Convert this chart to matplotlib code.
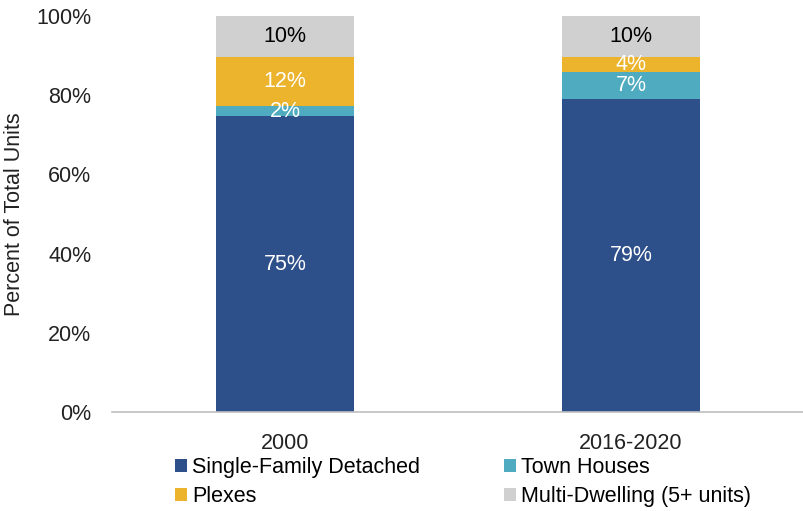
import matplotlib
matplotlib.use("Agg")
import matplotlib.pyplot as plt
import numpy as np

# data (percent of total units)
periods = ["2000", "2016-2020"]
series_names = ["Single-Family Detached", "Town Houses", "Plexes", "Multi-Dwelling (5+ units)"]
single_family = [74.7, 79.0]
town_houses = [2.5, 6.8]
plexes = [12.4, 3.8]
multi_dwelling = [10.4, 10.4]
yticks = [0, 20, 40, 60, 80, 100]

colors = ["#2D4F8A", "#4FABBF", "#EBB42C", "#D0D0D0"]
label_colors = ["white", "white", "white", "black"]
fs = 15.5

plt.rcParams['font.family'] = ['Liberation Sans', 'DejaVu Sans']

fig = plt.figure(figsize=(8.04, 5.11), dpi=100)
ax = fig.add_axes([112/804, 1 - 412/511, 692/804, (412 - 16)/511])

x = np.arange(len(periods))
bottom = np.zeros(len(periods))
handles = []
for vals, name, col, lc in zip([single_family, town_houses, plexes, multi_dwelling],
                               series_names, colors, label_colors):
    vals = np.array(vals)
    b = ax.bar(x, vals, 0.4, bottom=bottom, color=col, label=name)
    handles.append(b)
    for xi, v, bt in zip(x, vals, bottom):
        ax.text(xi, bt + v / 2, "%d%%" % round(v), ha="center", va="center",
                color=lc, fontsize=fs)
    bottom = bottom + vals

ax.set_xlim(-0.5, 1.5)
ax.set_ylim(0, 100)
ax.set_yticks(yticks)
ax.set_yticklabels(["%d%%" % t for t in yticks])
ax.set_xticks(x)
ax.set_xticklabels(periods)
ax.tick_params(axis="both", length=0, labelsize=fs, colors="#222222")
ax.tick_params(axis="y", pad=15)
ax.tick_params(axis="x", pad=15)
for s in ["top", "right", "left"]:
    ax.spines[s].set_visible(False)
ax.spines["bottom"].set_color("#BFBFBF")
ax.spines["bottom"].set_linewidth(1.2)

fig.text(15/804, 1 - 214/511, "Percent of Total Units", rotation=90,
         ha="center", va="center", fontsize=fs, color="#222222")

# legend fills by column, so reorder to get SF/TH on first row
order = [0, 2, 1, 3]
fig.legend(handles=[handles[i] for i in order],
           labels=[series_names[i] for i in order], loc="center",
           bbox_to_anchor=(463/804, 1 - 482/511), ncol=2, frameon=False,
           fontsize=fs, handlelength=0.56, handleheight=0.56, handletextpad=0.25,
           columnspacing=3.9, labelspacing=0.35, borderaxespad=0)

fig.savefig("out.png", dpi=100)
